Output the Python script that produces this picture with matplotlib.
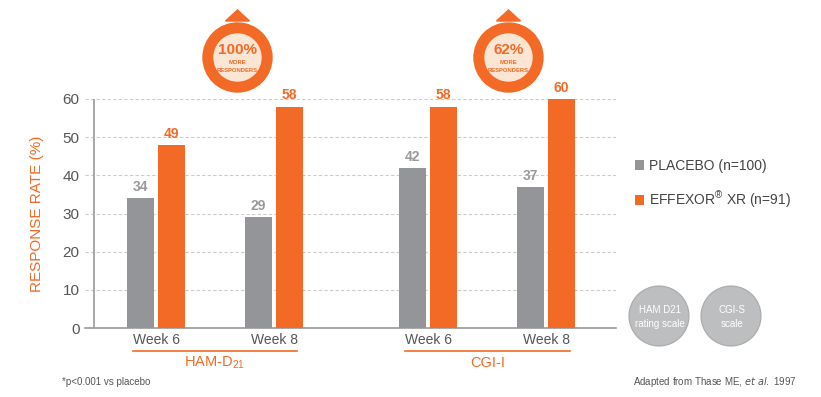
import matplotlib.pyplot as plt
from matplotlib.patches import Circle, Polygon

plt.rcParams['font.family'] = ['Liberation Sans', 'DejaVu Sans']

# data
weeks = ['Week 6', 'Week 8', 'Week 6', 'Week 8']
groups = ['HAM-D$_{\\mathregular{21}}$', 'CGI-I']
x_pos = [0, 1, 2.305, 3.305]
placebo = [34, 29, 42, 37]
effexor = [48, 58, 58, 60]          # bar heights as drawn
placebo_labels = ['34', '29', '42', '37']
effexor_labels = ['49', '58', '58', '60']
badges = ['100%', '62%']

ORANGE = '#F26A25'
GREY = '#939598'
TXT = '#555555'

fig = plt.figure(figsize=(8.21, 3.97), dpi=100)
W, H = 821, 397
ax = fig.add_axes([85 / W, (H - 328) / H, (616 - 85) / W, (328 - 99) / H])

bw = 0.229
off = 0.131
b1 = ax.bar([p - off for p in x_pos], placebo, bw, color=GREY, label='PLACEBO (n=100)', zorder=3)
b2 = ax.bar([p + off for p in x_pos], effexor, bw, color=ORANGE,
            label='EFFEXOR$^{\\mathregular{®}}$ XR (n=91)', zorder=3)

for rect, t in zip(b1, placebo_labels):
    ax.annotate(t, (rect.get_x() + rect.get_width() / 2, rect.get_height()), xytext=(0, 3),
                textcoords='offset points', ha='center', va='bottom', fontsize=10,
                fontweight='bold', color='#999999')
for rect, t in zip(b2, effexor_labels):
    ax.annotate(t, (rect.get_x() + rect.get_width() / 2, rect.get_height()), xytext=(0, 3),
                textcoords='offset points', ha='center', va='bottom', fontsize=10,
                fontweight='bold', color=ORANGE)

ax.set_xlim(-0.6017, 3.898)
ax.set_ylim(0, 60)
ax.set_yticks(range(0, 61, 10))
ax.set_xticks(x_pos, weeks)
ax.tick_params(axis='y', length=0, pad=4, labelsize=11, labelcolor=TXT)
ax.tick_params(axis='x', length=0, pad=3.5, labelsize=10, labelcolor=TXT)
ax.yaxis.grid(True, linestyle=(0, (3, 2)), color='#cccccc', linewidth=0.8, zorder=0)
for s in ['top', 'right', 'left']:
    ax.spines[s].set_visible(False)
ax.spines['bottom'].set_color('#999999')
ax.spines['bottom'].set_linewidth(1.2)
ax.axvline(-0.525, color='#999999', linewidth=1.2, zorder=4)
ax.set_ylabel('RESPONSE RATE (%)', color=ORANGE, fontsize=11, labelpad=13)

leg = fig.legend(handles=[b1, b2], loc='upper left', bbox_to_anchor=(622 / W, 1 - 146 / H),
                 frameon=False, fontsize=10, handlelength=0.7, handleheight=0.7,
                 handletextpad=0.35, labelspacing=1.2, labelcolor='#444444')

# overlay in pixel coords for decorations
ov = fig.add_axes([0, 0, 1, 1], zorder=5)
ov.set_xlim(0, W)
ov.set_ylim(H, 0)
ov.axis('off')

# group underlines and labels
for (x0, x1), g in zip([(132.7, 297), (405, 570)], groups):
    ov.plot([x0, x1], [351, 351], color=ORANGE, linewidth=1.2)
    ov.text((x0 + x1) / 2, 363, g, ha='center', va='center', color=ORANGE, fontsize=10.5)

# badges
for cx, t in zip([237.5, 508.5], badges):
    ov.add_patch(Polygon([[cx, 10], [cx - 12, 21], [cx + 12, 21]], closed=True, color=ORANGE))
    ov.add_patch(Circle((cx, 57.5), 34.5, color=ORANGE))
    ov.add_patch(Circle((cx, 57.5), 23.5, color='#FBE5D3'))
    ov.text(cx, 50, t, ha='center', va='center', color=ORANGE, fontsize=11, fontweight='bold')
    ov.text(cx, 63, 'MORE', ha='center', va='center', color=ORANGE, fontsize=4.2, fontweight='bold')
    ov.text(cx, 71, 'RESPONDERS', ha='center', va='center', color=ORANGE, fontsize=4.2,
            fontweight='bold')

# grey scale circles
for cx, t in zip([659, 731], ['HAM D21\nrating scale', 'CGI-S\nscale']):
    ov.add_patch(Circle((cx, 316), 30, facecolor='#BDBEC0', edgecolor='#a9a9a9', linewidth=0.8))
    ov.text(cx + 1, 317, t, ha='center', va='center', color='white', fontsize=7, linespacing=1.4)

ov.text(62, 382, '*p<0.001 vs placebo', ha='left', va='center', color=TXT, fontsize=7)
ov.text(797, 382, 'Adapted from Thase ME, $\\it{et\\ al.}$ 1997', ha='right', va='center',
        color=TXT, fontsize=7)

fig.savefig('out.png', dpi=100)
